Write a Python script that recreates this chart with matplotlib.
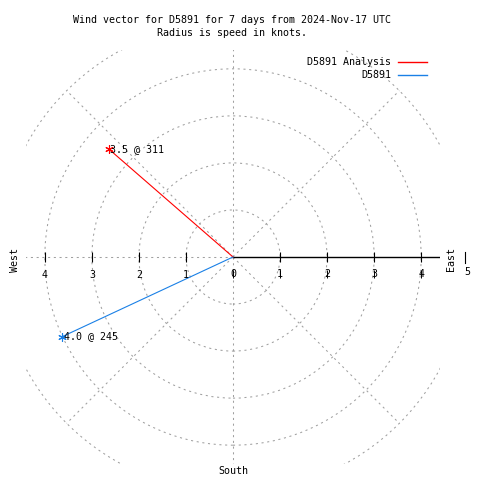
import numpy as np
import matplotlib
matplotlib.use('Agg')
import matplotlib.pyplot as plt
from matplotlib.patches import Circle
from matplotlib.lines import Line2D

# Wind vectors: speed (knots) and direction (degrees, clockwise from north)
series_names = ['D5891 Analysis', 'D5891']
series_speed = [3.5, 4.0]
series_dir = [311, 245]
series_colors = ['#ff0000', '#1a80e6']

title_lines = ['Wind vector for D5891 for 7 days from 2024-Nov-17 UTC',
               'Radius is speed in knots.']
rings = [1, 2, 3, 4, 5]
spokes = [0, 45, 90, 135, 180, 225, 270, 315]
tick_vals = [1, 2, 3, 4]

plt.rcParams['font.family'] = 'DejaVu Sans Mono'
fs = 7.2
grid_kw = dict(color='#a0a0a0', lw=0.75, linestyle=(0, (2, 3.5)))

fig = plt.figure(figsize=(4.8, 4.8), dpi=100)
W = 480.0
ax = fig.add_axes([26 / W, 1 - 464 / W, 414 / W, 414 / W])
ax.set_xlim(-4.4, 4.4)
ax.set_ylim(-4.4, 4.4)
ax.set_aspect('equal')
ax.axis('off')

# polar grid
for r in rings:
    ax.add_patch(Circle((0, 0), r, fill=False, **grid_kw))
for a in spokes:
    if a == 90:
        continue
    t = np.radians(a)
    ax.plot([0, 5 * np.sin(t)], [0, 5 * np.cos(t)], **grid_kw)

# r axis toward east
ax.plot([0, 5], [0, 0], color='black', lw=1)
ax.plot(tick_vals, [0] * 4, ls='none', marker='|', ms=7, mew=0.8, color='black')
ax.plot([-v for v in tick_vals], [0] * 4, ls='none', marker='|', ms=7, mew=0.8, color='black')
# right-hand labels are struck through by a second tick set
ax.plot([0] + tick_vals, [-0.36] * 5, ls='none', marker='|', ms=6, mew=0.7, color='black')
for v in [0] + tick_vals:
    ax.annotate(str(v), (v, 0), xytext=(0, -12), textcoords='offset points',
                ha='center', va='center', fontsize=fs)
for v in tick_vals:
    ax.annotate(str(v), (-v, 0), xytext=(0, -13), textcoords='offset points',
                ha='center', va='center', fontsize=fs)

# wind vectors
for name, spd, d, c in zip(series_names, series_speed, series_dir, series_colors):
    t = np.radians(d)
    x, y = spd * np.sin(t), spd * np.cos(t)
    ax.plot([0, x], [0, y], color=c, lw=0.8)
    ax.plot([x], [y], marker=(6, 2, 0), ms=6, mew=0.8, color=c)
    ax.annotate(f'{spd:.1f} @ {d}', (x, y), xytext=(1, 0), textcoords='offset points',
                ha='left', va='center', fontsize=fs)

# outside labels
fig.text(232 / W, 1 - 20 / W, title_lines[0], ha='center', va='center', fontsize=fs)
fig.text(232 / W, 1 - 33 / W, title_lines[1], ha='center', va='center', fontsize=fs)
fig.text(15 / W, 1 - 260 / W, 'West', rotation=90, ha='center', va='center', fontsize=fs)
fig.text(451 / W, 1 - 259 / W, 'East', rotation=90, ha='center', va='center', fontsize=fs)
fig.text(233 / W, 1 - 471 / W, 'South', ha='center', va='center', fontsize=fs)
fig.text(467 / W, 1 - 272 / W, '5', ha='center', va='center', fontsize=fs)
fig.add_artist(Line2D([465 / W, 465 / W], [1 - 263 / W, 1 - 252 / W], color='black', lw=0.8))

# legend
for i, (name, c) in enumerate(zip(series_names, series_colors)):
    yy = 1 - (62 + 13 * i) / W
    fig.text(391 / W, yy, name, ha='right', va='center', fontsize=fs)
    fig.add_artist(Line2D([398 / W, 427 / W], [yy, yy], color=c, lw=1))

fig.savefig('out.png', dpi=100)
